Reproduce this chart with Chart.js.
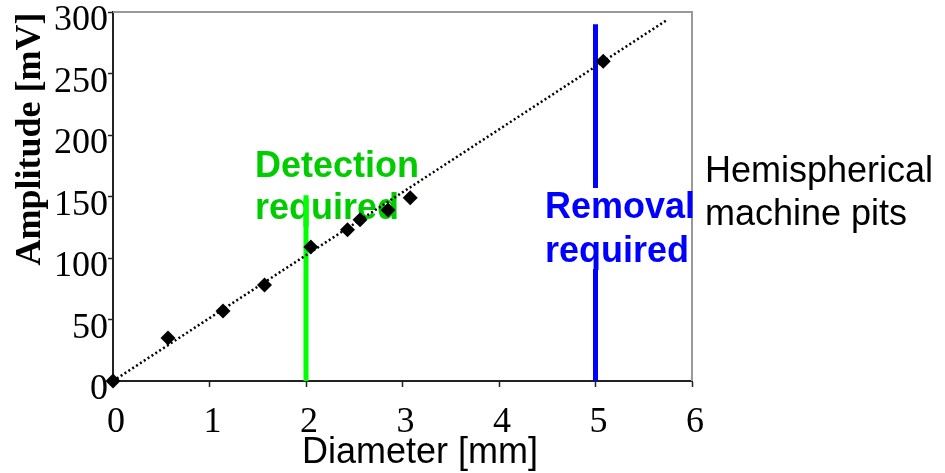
<!DOCTYPE html>
<html>
<head>
<meta charset="utf-8">
<script src="https://cdn.jsdelivr.net/npm/chart.js@4.4.1/dist/chart.umd.min.js"></script>
<style>
  html, body { margin: 0; padding: 0; background: #fff; }
</style>
</head>
<body>
<canvas id="pits" width="945" height="473"></canvas>
<script>
// measured pits: diameter [mm] vs amplitude [mV]
const diameters = [0, 0.57, 1.14, 1.57, 2.05, 2.43, 2.56, 2.85, 3.08, 5.08];
const amplitudes = [0, 35, 57, 78, 109, 123, 131, 139, 149, 260];

// dotted linear fit
const fitX = [0, 5.75];
const fitY = [0, 294];

// limit lines
const detectionX = 2;
const detectionTop = 151;
const removalX = 5;
const removalLower = [0, 91];
const removalUpper = [157, 290];

const xTicks = [0, 1, 2, 3, 4, 5, 6];
const yTicks = [0, 50, 100, 150, 200, 250, 300];

const toPoints = (xs, ys) => xs.map((x, i) => ({ x: x, y: ys[i] }));
const vertical = (x, ys) => ys.map(y => ({ x: x, y: y }));

const serif = '"Liberation Serif", "Times New Roman", serif';
const sans = '"Liberation Sans", Arial, sans-serif';

// annotations, frame and axis titles
const decorations = {
  id: 'decorations',
  beforeDatasetsDraw(chart) {
    const ctx = chart.ctx;
    const a = chart.chartArea;
    ctx.save();

    // grey top / right frame
    ctx.strokeStyle = '#999';
    ctx.lineWidth = 2;
    ctx.beginPath();
    ctx.moveTo(a.left, a.top);
    ctx.lineTo(a.right, a.top);
    ctx.lineTo(a.right, a.bottom);
    ctx.stroke();

    ctx.textAlign = 'left';
    ctx.textBaseline = 'alphabetic';

    ctx.font = 'bold 36px ' + sans;
    ctx.fillStyle = '#00cc00';
    ctx.fillText('Detection', 255, 177);
    ctx.fillText('required', 255, 219);

    ctx.fillStyle = '#0000ff';
    ctx.fillText('Removal', 545, 218);
    ctx.fillText('required', 545, 262);

    ctx.font = '36px ' + sans;
    ctx.fillStyle = '#000';
    ctx.fillText('Hemispherical', 705, 182);
    ctx.fillText('machine pits', 705, 225);

    ctx.fillText('Diameter [mm]', 302, 463);

    ctx.font = 'bold 36px ' + serif;
    ctx.translate(31, 139);
    ctx.rotate(-Math.PI / 2);
    ctx.textAlign = 'center';
    ctx.textBaseline = 'middle';
    ctx.fillText('Amplitude [mV]', 0, 0);
    ctx.restore();
  }
};

new Chart(document.getElementById('pits'), {
  type: 'scatter',
  data: {
    datasets: [
      {
        label: 'Pits',
        data: toPoints(diameters, amplitudes),
        pointStyle: 'rectRot',
        pointRadius: 7.5,
        pointBackgroundColor: '#000',
        pointBorderWidth: 0,
        showLine: false,
        clip: false,
        order: 0
      },
      {
        label: 'Fit',
        data: toPoints(fitX, fitY),
        showLine: true,
        borderColor: '#000',
        borderWidth: 2.5,
        borderDash: [2, 2.6],
        pointRadius: 0,
        order: 1
      },
      {
        label: 'Detection',
        data: vertical(detectionX, [0, detectionTop]),
        showLine: true,
        borderColor: '#00ff00',
        borderWidth: 5,
        pointRadius: 0,
        order: 2
      },
      {
        label: 'Removal low',
        data: vertical(removalX, removalLower),
        showLine: true,
        borderColor: '#0000ff',
        borderWidth: 5,
        pointRadius: 0,
        order: 2
      },
      {
        label: 'Removal high',
        data: vertical(removalX, removalUpper),
        showLine: true,
        borderColor: '#0000ff',
        borderWidth: 5,
        pointRadius: 0,
        order: 2
      }
    ]
  },
  options: {
    responsive: false,
    animation: false,
    devicePixelRatio: 1,
    layout: { padding: { left: 0, top: 12, right: 253, bottom: 0 } },
    plugins: {
      legend: { display: false },
      tooltip: { enabled: false }
    },
    scales: {
      x: {
        type: 'linear',
        min: 0,
        max: 6,
        afterBuildTicks: s => { s.ticks = xTicks.map(v => ({ value: v })); },
        afterFit: s => { s.height = 92; s.paddingLeft = 0; s.paddingRight = 0; },
        border: { color: '#222', width: 2 },
        grid: { drawOnChartArea: false, drawTicks: true, tickLength: 6, tickColor: '#222', tickWidth: 1.5 },
        ticks: { color: '#000', font: { family: serif, size: 36 }, padding: 14, labelOffset: 3, maxRotation: 0 }
      },
      y: {
        type: 'linear',
        min: 0,
        max: 300,
        afterBuildTicks: s => { s.ticks = yTicks.map(v => ({ value: v })); },
        afterFit: s => { s.width = 113; s.paddingTop = 0; s.paddingBottom = 0; },
        border: { color: '#222', width: 2 },
        grid: { drawOnChartArea: false, drawTicks: true, tickLength: 5, tickColor: '#222', tickWidth: 1.5 },
        ticks: { color: '#000', font: { family: serif, size: 36 }, padding: 0, labelOffset: 9 }
      }
    }
  },
  plugins: [decorations]
});
</script>
</body>
</html>
